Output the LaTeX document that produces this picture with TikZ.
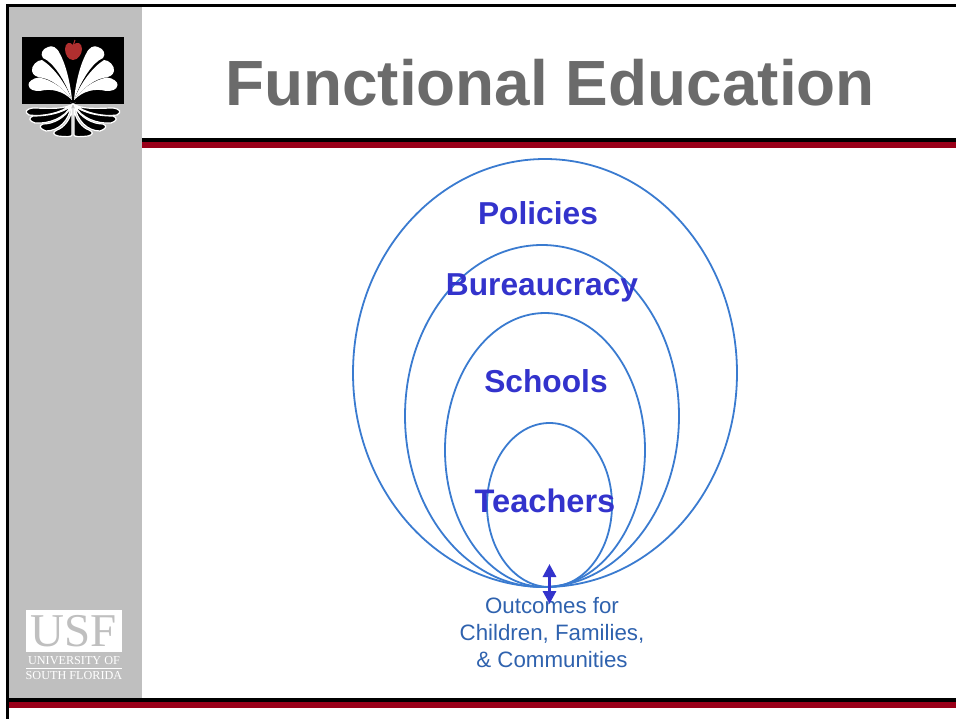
\documentclass[tikz,border=0pt]{standalone}
\usepackage{fontspec}
\setmainfont{Liberation Sans}
\newfontfamily\serifusf{Liberation Serif}
\usepackage{tikz}
\usetikzlibrary{shapes.geometric,arrows.meta,positioning,calc}

\definecolor{panelgray}{HTML}{BFBFBF}
\definecolor{rulered}{HTML}{990019}
\definecolor{titlegray}{HTML}{6B6B6B}
\definecolor{ringblue}{HTML}{3A7BD0}
\definecolor{labelblue}{HTML}{3333CC}
\definecolor{outblue}{HTML}{2F62AE}
\definecolor{applered}{HTML}{B02F2F}

\begin{document}
\begin{tikzpicture}[x=1pt, y=-1pt]
        % Define styles
        \tikzset{
            ring/.style={draw=ringblue, ellipse, line width=1.8pt, inner sep=0pt},
            label/.style={text=labelblue, font=\bfseries\fontsize{31.7}{36}\selectfont},
            arrow/.style={{Triangle[length=13pt,width=13pt]}-{Triangle[length=13pt,width=13pt]}, line width=3pt, draw=labelblue},
            petal/.style={fill=white},
            root/.style={fill=black, draw=white, line width=1.2pt},
            usfsmall/.style={text=white, inner sep=0pt, font=\serifusf\fontsize{12.2}{13}\selectfont}
        }
        \useasboundingbox (0,0) rectangle (956,719);

        % Slide frame
        \fill[panelgray] (8,6) rectangle (142,698);
        \fill[black] (6,4) rectangle (956,6.7);
        \fill[black] (6,4) rectangle (8.7,719);
        \fill[black] (142,138.3) rectangle (956,142.5);
        \fill[rulered] (142,142.5) rectangle (956,148);
        \fill[black] (8.7,698) rectangle (956,701.8);
        \fill[rulered] (8.7,701.8) rectangle (956,707.8);

        % Logo
        \fill[black] (22,37) rectangle (124,104);
        \foreach \side in {1,-1}{
            \begin{scope}[shift={(73,0)}, xscale=\side]
                \fill[petal] (-1,100) .. controls (-3,80) and (-8,63) .. (-13,54)
                    .. controls (-16,47) and (-21,45) .. (-25,47)
                    .. controls (-31,49) and (-33,54) .. (-30,58)
                    .. controls (-20,62) and (-8,80) .. (-1,100) -- cycle;
                \fill[petal] (-1,100) .. controls (-8,82) and (-20,67) .. (-31,60)
                    .. controls (-36,60) and (-42,66) .. (-41,71)
                    .. controls (-40,76) and (-36,77) .. (-30,78)
                    .. controls (-20,80) and (-8,90) .. (-1,100) -- cycle;
                \fill[petal] (-1,100) .. controls (-8,90) and (-20,80) .. (-34,77.5)
                    .. controls (-40,78) and (-45,82) .. (-44.5,85)
                    .. controls (-44,90) and (-39,91) .. (-33,91)
                    .. controls (-22,88) and (-10,91) .. (-1,100) -- cycle;
                \draw[root] (-2,105) .. controls (-12,110) and (-30,108) .. (-40,108)
                    .. controls (-47,109) and (-49,112) .. (-44,115)
                    .. controls (-30,117) and (-12,113) .. (-2,105) -- cycle;
                \draw[root] (-2,106) .. controls (-12,114) and (-28,116) .. (-40,116)
                    .. controls (-45,118) and (-44,121) .. (-38,123)
                    .. controls (-24,124) and (-8,118) .. (-2,106) -- cycle;
                \draw[root] (-2,107) .. controls (-8,118) and (-20,124) .. (-30,124)
                    .. controls (-35,126) and (-33,129) .. (-27,131)
                    .. controls (-14,131) and (-4,120) .. (-2,107) -- cycle;
                \draw[root] (-1,108) .. controls (-2,120) and (-10,128) .. (-16,130)
                    .. controls (-21,132) and (-20,135) .. (-15,136)
                    .. controls (-8,137) and (-1,137) .. (-1,135) -- cycle;
            \end{scope}
        }
        \fill[applered] (73,45) .. controls (77,41) and (82,43) .. (82,49)
            .. controls (82,54) and (78,60) .. (73,60)
            .. controls (68,60) and (65,54) .. (65,49)
            .. controls (65,43) and (70,41) .. (73,45) -- cycle;
        \draw[applered, line width=1pt] (73,46) -- (75,40);

        % USF mark
        \fill[white] (26,610) rectangle (122,652);
        \node[text=panelgray, inner sep=0pt, font=\serifusf\fontsize{47}{47}\selectfont] (usf) at (74,631) {USF};
        \node[usfsmall] (university) at (74,661) {UNIVERSITY OF};
        \node[usfsmall] (southflorida) at (74,676) {SOUTH FLORIDA};
        \fill[white] (26,667.5) rectangle (122,669);

        % Title
        \node[text=titlegray, font=\bfseries\fontsize{63.9}{70}\selectfont] (title) at (550,83) {Functional Education};

        % Place rings
        \node[ring, minimum width=384pt, minimum height=428pt] (policyring) at (545,373) {};
        \node[ring, minimum width=274pt, minimum height=342pt] (bureauring) at (542,416) {};
        \node[ring, minimum width=200pt, minimum height=274pt] (schoolring) at (545,450) {};
        \node[ring, minimum width=125pt, minimum height=164pt] (teacherring) at (549.5,505) {};

        % Ring labels
        \node[label] (policies) at (538,213) {Policies};
        \node[label] (bureaucracy) at (542,288) {Bureaucracy};
        \node[label] (schools) at (546,381) {Schools};
        \node[label, font=\bfseries\fontsize{32.6}{36}\selectfont] (teachers) at (545,501) {Teachers};

        % Outcomes text
        \node[text=outblue, align=center, font=\fontsize{22.3}{27}\selectfont] (outcomes) at (552,633)
            {Outcomes for\\Children, Families,\\\& Communities};

        % Draw arrows
        \coordinate (arrowtop) at (549.5,564);
        \coordinate (arrowbot) at (549.5,604);
        \draw[arrow] (arrowtop) -- (arrowbot);
    \end{tikzpicture}
\end{document}
